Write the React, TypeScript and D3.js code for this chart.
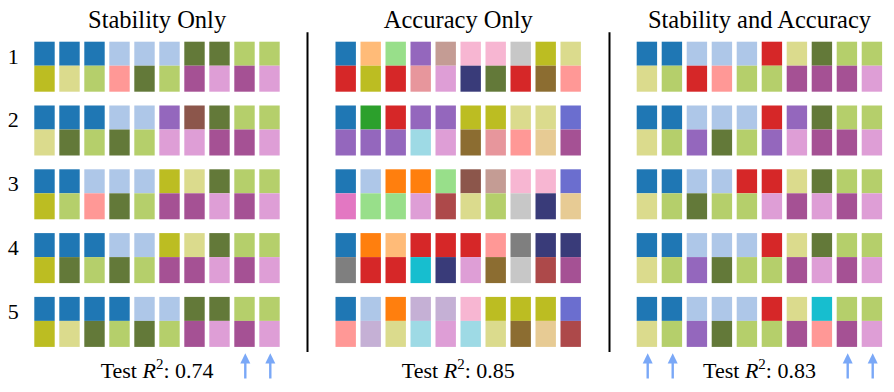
import React from "react";
import * as d3 from "d3";

// Colour keys (tab20 + tab20b)
const palette: Record<string, string> = {
  B: "#1f77b4", b: "#aec7e8", O: "#ff7f0e", o: "#ffbb78", G: "#2ca02c", g: "#98df8a",
  R: "#d62728", r: "#ff9896", P: "#9467bd", p: "#c5b0d5", N: "#8c564b", n: "#c49c94",
  K: "#e377c2", k: "#f7b6d2", X: "#7f7f7f", x: "#c7c7c7", Y: "#bcbd22", y: "#dbdb8d",
  C: "#17becf", c: "#9edae5",
  V: "#393b79", I: "#6b6ecf", D: "#637939", L: "#b5cf6b", T: "#8c6d31", t: "#e7cb94",
  E: "#ad494a", e: "#e7969c", M: "#a55194", m: "#de9ed6",
};

const titles = ["Stability Only", "Accuracy Only", "Stability and Accuracy"];
const r2Values = ["0.74", "0.85", "0.83"];
const rowLabels = ["1", "2", "3", "4", "5"];

const stabilityTop = ["BBBbbbDDLL", "BBBbbPNDLL", "BBbbbYyDLL", "BBBbbYyDLL", "BBBBbbDDLL"];
const stabilityBottom = ["YyLrDLMmMm", "yDLDLmmMMm", "YLrDLMMmMm", "YDLDLMMmMm", "YyDLDLMmMm"];

const accuracyTop = ["BogPnkkxYy", "BGRPPYYyyI", "BbOOgNnkkI", "BOoRRRrXVV", "BbOppkYYYI"];
const accuracyBottom = ["RYRemVDRTr", "PPPcmTertM", "KggmEyLxVt", "XRRCVmTxEM", "rpycmcyTtE"];

const bothTop = ["BBbbbRyDLL", "BBbbbRPDLL", "BBbbRRyDLL", "BBbbbRyDLL", "BBbbbRyCLL"];
const bothBottom = ["yLRrLLMMMm", "yLPDLPmMMm", "yLDLLmMmMm", "yLPDLLMmMm", "yLPDLLMrMm"];

const arrowsStability = [8, 9];
const arrowsAccuracy: number[] = [];
const arrowsBoth = [0, 1, 8, 9];

const panels = [
  { top: stabilityTop, bottom: stabilityBottom, arrows: arrowsStability },
  { top: accuracyTop, bottom: accuracyBottom, arrows: arrowsAccuracy },
  { top: bothTop, bottom: bothBottom, arrows: arrowsBoth },
];

const W = 894;
const H = 392;
const FONT = "Liberation Serif";

const panelX = d3.scaleLinear().domain([0, 1]).range([34.3, 335.5]);
const colX = d3.scaleLinear().domain([0, 10]).range([0, 250]);
const rowY = d3.scaleLinear().domain([0, 1]).range([41.7, 105.5]);
const cellW = 20.4;
const topH = 24;
const botH = 26;
const arrowColor = "#7aa8f7";

export default function App() {
  return (
    <svg width={W} height={H} style={{ position: "fixed", left: 0, top: 0, background: "#fff" }}>
      <rect x={0} y={0} width={W} height={H} fill="#fff" />
      {panels.map((panel, p) => {
        const x0 = panelX(p);
        const cx = x0 + colX(10) / 2 - 2.2;
        return (
          <g key={p}>
            <text x={cx} y={28} textAnchor="middle" style={{ fontFamily: FONT }} fontSize={24.5} fill="#000">
              {titles[p]}
            </text>
            {panel.top.map((row, i) => (
              <g key={i}>
                {row.split("").map((k, j) => (
                  <rect key={"t" + j} x={x0 + colX(j)} y={rowY(i)} width={cellW} height={topH} fill={palette[k]} />
                ))}
                {panel.bottom[i].split("").map((k, j) => (
                  <rect key={"b" + j} x={x0 + colX(j)} y={rowY(i) + topH} width={cellW} height={botH} fill={palette[k]} />
                ))}
              </g>
            ))}
            {panel.arrows.map((j) => {
              const ax = x0 + colX(j) + cellW / 2 + 0.8;
              return (
                <g key={"a" + j}>
                  <line x1={ax} x2={ax} y1={378.5} y2={360} stroke={arrowColor} strokeWidth={2.4} />
                  <path
                    d={`M${ax - 5},${363.5} L${ax},${353.3} L${ax + 5},${363.5} Z`}
                    fill={arrowColor}
                  />
                </g>
              );
            })}
            <text x={cx} y={378} textAnchor="middle" style={{ fontFamily: FONT }} fontSize={22} fill="#000">
              Test <tspan fontStyle="italic">R</tspan>
              <tspan dy={-9} fontSize={15}>2</tspan>
              <tspan dy={9}>: {r2Values[p]}</tspan>
            </text>
          </g>
        );
      })}
      {rowLabels.map((l, i) => (
        <text key={l} x={13.3} y={rowY(i) + 21.8} textAnchor="middle" style={{ fontFamily: FONT }} fontSize={22} fill="#000">
          {l}
        </text>
      ))}
      {[307.5, 609.5].map((x) => (
        <line key={x} x1={x} x2={x} y1={32.3} y2={352} stroke="#000" strokeWidth={2} />
      ))}
    </svg>
  );
}
